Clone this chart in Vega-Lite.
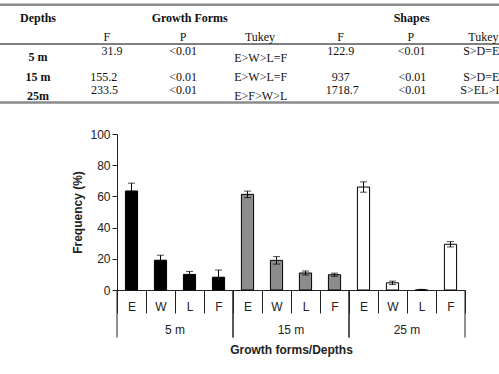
{
  "$schema": "https://vega.github.io/schema/vega-lite/v6.json",
  "autosize": "none",
  "width": 348,
  "height": 156,
  "padding": {"left": 117, "top": 134, "right": 34, "bottom": 84},
  "background": "white",
  "config": {
    "view": {"stroke": null},
    "axis": {"labelOverlap": false, "labelSeparation": 0},
    "axisY": {"labelOverlap": false, "tickCount": 6}
  },
  "datasets": {
    "bars": [
      {"depth": "5 m", "form": "E", "key": "5 m|E", "mean": 63.5, "lo": 58.5, "hi": 68.5},
      {"depth": "5 m", "form": "W", "key": "5 m|W", "mean": 19.1, "lo": 16.0, "hi": 22.3},
      {"depth": "5 m", "form": "L", "key": "5 m|L", "mean": 10.0, "lo": 8.1, "hi": 11.9},
      {"depth": "5 m", "form": "F", "key": "5 m|F", "mean": 8.2, "lo": 3.6, "hi": 12.8},
      {"depth": "15 m", "form": "E", "key": "15 m|E", "mean": 61.3, "lo": 59.2, "hi": 63.4},
      {"depth": "15 m", "form": "W", "key": "15 m|W", "mean": 19.0, "lo": 16.6, "hi": 21.4},
      {"depth": "15 m", "form": "L", "key": "15 m|L", "mean": 10.9, "lo": 9.6, "hi": 12.2},
      {"depth": "15 m", "form": "F", "key": "15 m|F", "mean": 9.8, "lo": 8.8, "hi": 10.8},
      {"depth": "25 m", "form": "E", "key": "25 m|E", "mean": 66.0, "lo": 62.7, "hi": 69.3},
      {"depth": "25 m", "form": "W", "key": "25 m|W", "mean": 4.6, "lo": 3.5, "hi": 5.7},
      {"depth": "25 m", "form": "L", "key": "25 m|L", "mean": 0, "lo": 0, "hi": 0.4},
      {"depth": "25 m", "form": "F", "key": "25 m|F", "mean": 29.3, "lo": 27.6, "hi": 31.0}
    ],
    "groups": [
      {"depth": "5 m", "first": "5 m|E", "mid": "5 m|L", "last": "5 m|F"},
      {"depth": "15 m", "first": "15 m|E", "mid": "15 m|L", "last": "15 m|F"},
      {"depth": "25 m", "first": "25 m|E", "mid": "25 m|L", "last": "25 m|F"}
    ],
    "tbold": [
      {"t": "Depths", "c": 0, "r": 0},
      {"t": "Growth Forms", "c": 2.05, "r": 0},
      {"t": "Shapes", "c": 5.05, "r": 0},
      {"t": "5 m", "c": 0, "r": 2.0},
      {"t": "15 m", "c": 0, "r": 3.01},
      {"t": "25m", "c": 0, "r": 4.0}
    ],
    "treg": [
      {"t": "F", "c": 0.93, "r": 0.95},
      {"t": "P", "c": 1.96, "r": 0.95},
      {"t": "Tukey", "c": 3.0, "r": 0.95},
      {"t": "F", "c": 4.09, "r": 0.95},
      {"t": "P", "c": 5.04, "r": 0.95},
      {"t": "Tukey", "c": 6.02, "r": 0.95},
      {"t": "31.9", "c": 1.0, "r": 1.69},
      {"t": "<0.01", "c": 1.96, "r": 1.69},
      {"t": "E>W>L=F", "c": 3.01, "r": 2.05},
      {"t": "122.9", "c": 4.09, "r": 1.69},
      {"t": "<0.01", "c": 5.05, "r": 1.69},
      {"t": "S>D=E", "c": 5.99, "r": 1.69},
      {"t": "155.2", "c": 0.89, "r": 3.0},
      {"t": "<0.01", "c": 1.96, "r": 3.0},
      {"t": "E>W>L=F", "c": 3.01, "r": 3.0},
      {"t": "937", "c": 4.09, "r": 3.0},
      {"t": "<0.01", "c": 5.06, "r": 3.0},
      {"t": "S>D=E", "c": 5.99, "r": 3.0},
      {"t": "233.5", "c": 0.9, "r": 3.68},
      {"t": "<0.01", "c": 1.96, "r": 3.68},
      {"t": "E>F>W>L", "c": 3.01, "r": 4.0},
      {"t": "1718.7", "c": 4.11, "r": 3.68},
      {"t": "<0.01", "c": 5.06, "r": 3.68},
      {"t": "S>EL>I", "c": 5.97, "r": 3.68}
    ],
    "thick": [{"r": -0.68}, {"r": 4.33}],
    "thin": [{"r": 1.33}]
  },
  "layer": [
    {
      "layer": [
        {
          "data": {"name": "bars"},
          "mark": {"type": "bar", "width": {"band": 0.42}, "stroke": "#000000", "strokeWidth": 1},
          "encoding": {
            "x": {
              "field": "key", "type": "nominal",
              "scale": {"domain": ["5 m|E", "5 m|W", "5 m|L", "5 m|F", "15 m|E", "15 m|W", "15 m|L", "15 m|F", "25 m|E", "25 m|W", "25 m|L", "25 m|F"], "paddingInner": 0, "paddingOuter": 0},
              "axis": {
                "title": "Growth forms/Depths", "titleFont": "Liberation Sans", "titleFontSize": 12, "titleFontWeight": "bold", "titleColor": "#222222", "titlePadding": 31,
                "labelExpr": "split(datum.value, '|')[1]", "labelAngle": 0, "labelFont": "Liberation Sans", "labelFontSize": 12, "labelColor": "#222222", "labelPadding": -12, "labelOverlap": false,
                "tickBand": "extent", "tickSize": 23, "tickColor": "#222222", "domainColor": "#222222"
              }
            },
            "y": {
              "field": "mean", "type": "quantitative",
              "scale": {"domain": [0, 100], "nice": false},
              "axis": {
                "title": "Frequency (%)", "titleFont": "Liberation Sans", "titleFontSize": 12, "titleFontWeight": "bold", "titleColor": "#222222", "titlePadding": 5,
                "values": [0, 20, 40, 60, 80, 100], "grid": false, "tickSize": 5, "labelPadding": 2, "labelOverlap": false, "labelBound": false, "labelFlush": false,
                "labelFont": "Liberation Sans", "labelFontSize": 12, "labelColor": "#222222", "tickColor": "#222222", "domainColor": "#222222"
              }
            },
            "fill": {
              "field": "depth", "type": "nominal",
              "scale": {"domain": ["5 m", "15 m", "25 m"], "range": ["#000000", "#8c8c8c", "#ffffff"]},
              "legend": null
            }
          }
        },
        {
          "data": {"name": "bars"},
          "mark": {"type": "rule", "color": "#000000", "strokeWidth": 1},
          "encoding": {
            "x": {"field": "key", "type": "nominal"},
            "y": {"field": "lo", "type": "quantitative"},
            "y2": {"field": "hi"}
          }
        },
        {
          "data": {"name": "bars"},
          "mark": {"type": "tick", "color": "#000000", "size": 7, "thickness": 1},
          "encoding": {
            "x": {"field": "key", "type": "nominal"},
            "y": {"field": "lo", "type": "quantitative"}
          }
        },
        {
          "data": {"name": "bars"},
          "mark": {"type": "tick", "color": "#000000", "size": 7, "thickness": 1},
          "encoding": {
            "x": {"field": "key", "type": "nominal"},
            "y": {"field": "hi", "type": "quantitative"}
          }
        },
        {
          "data": {"name": "groups"},
          "mark": {"type": "rule", "color": "#222222", "strokeWidth": 1},
          "encoding": {
            "x": {"field": "first", "type": "nominal", "bandPosition": 0},
            "y": {"datum": 0},
            "y2": {"datum": -30.5}
          }
        },
        {
          "data": {"name": "groups"},
          "mark": {"type": "rule", "color": "#222222", "strokeWidth": 1},
          "encoding": {
            "x": {"field": "last", "type": "nominal", "bandPosition": 1},
            "y": {"datum": 0},
            "y2": {"datum": -30.5}
          }
        },
        {
          "data": {"name": "groups"},
          "mark": {"type": "text", "font": "Liberation Sans", "fontSize": 12, "color": "#222222", "baseline": "middle", "align": "center"},
          "encoding": {
            "x": {"field": "mid", "type": "nominal", "bandPosition": 0},
            "y": {"datum": -25.6},
            "text": {"field": "depth"}
          }
        }
      ]
    },
    {
      "layer": [
        {
          "data": {"name": "thick"},
          "mark": {"type": "rule", "color": "#8a8a8a", "strokeWidth": 2.5},
          "encoding": {
            "x": {"datum": -0.6, "type": "quantitative", "scale": {"domain": [1.0676, 5.7703], "nice": false, "zero": false}, "axis": null},
            "x2": {"datum": 6.5},
            "y": {"field": "r", "type": "quantitative", "scale": {"domain": [5.9487, 13.9487], "reverse": true, "nice": false, "zero": false}, "axis": null}
          }
        },
        {
          "data": {"name": "thin"},
          "mark": {"type": "rule", "color": "#555555", "strokeWidth": 1.5},
          "encoding": {
            "x": {"datum": -0.6, "type": "quantitative"},
            "x2": {"datum": 6.5},
            "y": {"field": "r", "type": "quantitative"}
          }
        },
        {
          "data": {"name": "tbold"},
          "mark": {"type": "text", "font": "Liberation Serif", "fontSize": 12, "fontWeight": "bold", "color": "#111111", "baseline": "middle", "align": "center"},
          "encoding": {
            "x": {"field": "c", "type": "quantitative"},
            "y": {"field": "r", "type": "quantitative"},
            "text": {"field": "t"}
          }
        },
        {
          "data": {"name": "treg"},
          "mark": {"type": "text", "font": "Liberation Serif", "fontSize": 12, "color": "#111111", "baseline": "middle", "align": "center"},
          "encoding": {
            "x": {"field": "c", "type": "quantitative"},
            "y": {"field": "r", "type": "quantitative"},
            "text": {"field": "t"}
          }
        }
      ]
    }
  ],
  "resolve": {"scale": {"x": "independent", "y": "independent", "fill": "independent"}}
}
